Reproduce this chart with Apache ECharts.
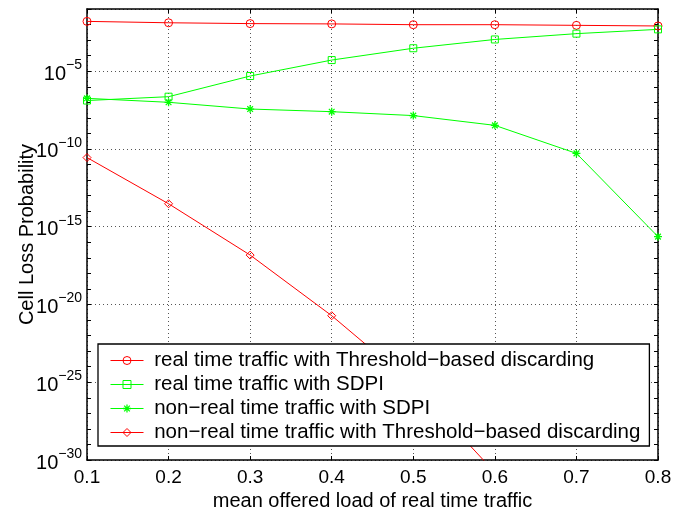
<!DOCTYPE html>
<html>
<head>
<meta charset="utf-8">
<script src="https://cdn.jsdelivr.net/npm/echarts@6/dist/echarts.min.js"></script>
<style>html,body{margin:0;padding:0;background:#fff}#c{width:685px;height:508px}</style>
</head>
<body>
<div id="c"></div>
<script>
var loads = [0.1, 0.2, 0.3, 0.4, 0.5, 0.6, 0.7, 0.8];
var rtThreshold = [1.6e-2, 1.3e-2, 1.15e-2, 1.1e-2, 9.8e-3, 9.8e-3, 8.9e-3, 8.1e-3];
var rtSDPI = [1.3e-7, 2.3e-7, 4.9e-6, 5.2e-5, 3.0e-4, 1.1e-3, 2.6e-3, 4.9e-3];
var nrtSDPI = [1.8e-7, 1.0e-7, 3.7e-8, 2.5e-8, 1.4e-8, 3.3e-9, 5.2e-11, 2.3e-16];
var nrtThreshold = [2.8e-11, 3.0e-14, 1.5e-17, 1.9e-21, 7.2e-26, 1.6e-31];
var seriesNames = [
  'real time traffic with Threshold\u2212based discarding',
  'real time traffic with SDPI',
  'non\u2212real time traffic with SDPI',
  'non\u2212real time traffic with Threshold\u2212based discarding'
];
var xTicks = [0.1, 0.2, 0.3, 0.4, 0.5, 0.6, 0.7, 0.8];
var yLabelExponents = [-30, -25, -20, -15, -10, -5];
var yMinExp = -30, yMaxExp = -1;
var xTitle = 'mean offered load of real time traffic';
var yTitle = 'Cell Loss Probability';

var FONT = "'Liberation Sans', Arial, Helvetica, sans-serif";
var RED = '#ff0000', GREEN = '#00ff00';
var STAR = 'path://M-0.16,-1 L0.16,-1 L0.16,1 L-0.16,1 Z M-1,-0.16 L1,-0.16 L1,0.16 L-1,0.16 Z M-0.82,-0.6 L-0.6,-0.82 L0.82,0.6 L0.6,0.82 Z M0.6,-0.82 L0.82,-0.6 L-0.6,0.82 L-0.82,0.6 Z';

// log10 scale: values are plotted on a decade (exponent) axis
function pairs(vals) { return vals.map(function (v, i) { return [loads[i], Math.log10(v)]; }); }

function mkSeries(name, vals, color, symbol, size, hollow) {
  return {
    type: 'line', name: name, data: pairs(vals), xAxisIndex: 0, yAxisIndex: 0,
    symbol: symbol, symbolSize: size, showAllSymbol: true, clip: true,
    lineStyle: { color: color, width: 1 },
    itemStyle: hollow ? { color: 'rgba(255,255,255,0)', borderColor: color, borderWidth: 1 } : { color: color, borderWidth: 0 },
    emphasis: { disabled: true }
  };
}

var chart = echarts.init(document.getElementById('c'), null, { renderer: 'canvas' });
var gridLine = { show: true, lineStyle: { color: '#555', type: [1, 3], width: 1 } };
var tickStyle = { show: true, inside: true, length: 4, lineStyle: { color: '#000', width: 1 } };
var frameLine = { show: true, lineStyle: { color: '#000', width: 1.5 } };
chart.setOption({
  animation: false,
  backgroundColor: '#fff',
  textStyle: { fontFamily: FONT },
  grid: { left: 87, right: 27, top: 9, bottom: 48, containLabel: false, outerBoundsMode: 'none' },
  legend: {
    orient: 'vertical', left: 98, top: 344,
    padding: [6, 9, 3, 12],
    itemWidth: 33, itemHeight: 10, itemGap: 3,
    backgroundColor: '#fff', borderColor: '#000', borderWidth: 1.3,
    lineStyle: { width: 1 },
    itemStyle: { borderWidth: 1 },
    textStyle: { fontFamily: FONT, fontSize: 20.5, color: '#000' },
    formatter: function (n) { return ' ' + n; },
    data: seriesNames,
    selectedMode: false
  },
  xAxis: [{
    type: 'value', min: 0.1, max: 0.8, interval: 0.1, position: 'bottom',
    name: xTitle, nameLocation: 'middle', nameGap: 28,
    nameTextStyle: { fontFamily: FONT, fontSize: 20, color: '#000' },
    axisLine: frameLine,
    axisTick: tickStyle,
    axisLabel: { fontFamily: FONT, fontSize: 19, color: '#000', margin: 8, formatter: function (v) { return v.toFixed(1); } },
    splitLine: gridLine
  }, {
    type: 'value', min: 0.1, max: 0.8, interval: 0.1, position: 'top',
    axisLine: frameLine, axisTick: tickStyle,
    axisLabel: { show: false }, splitLine: { show: false }
  }],
  yAxis: [{
    type: 'value', min: yMinExp, max: yMaxExp, interval: 5, position: 'left',
    name: yTitle, nameLocation: 'middle', nameGap: 50, nameRotate: 90, nameMoveOverlap: false,
    nameTextStyle: { fontFamily: FONT, fontSize: 20, color: '#000' },
    axisLine: frameLine,
    axisTick: { show: false },
    axisLabel: {
      margin: 5, color: '#000',
      formatter: function (e) {
        e = Math.round(e);
        if (yLabelExponents.indexOf(e) < 0) return '';
        return '{b|10}{s|' + (e < 0 ? '\u2212' : '') + Math.abs(e) + '}';
      },
      rich: {
        b: { fontFamily: FONT, fontSize: 20, color: '#000', padding: [6, 0, 0, 0], verticalAlign: 'bottom' },
        s: { fontFamily: FONT, fontSize: 14, color: '#000', verticalAlign: 'top' }
      }
    },
    splitLine: gridLine
  }, {
    type: 'value', min: yMinExp, max: yMaxExp, interval: 1, position: 'left',
    axisLine: { show: false }, axisTick: tickStyle,
    axisLabel: { show: false }, splitLine: { show: false }
  }, {
    type: 'value', min: yMinExp, max: yMaxExp, interval: 1, position: 'right',
    axisLine: frameLine, axisTick: tickStyle,
    axisLabel: { show: false }, splitLine: { show: false }
  }],
  series: [
    mkSeries(seriesNames[0], rtThreshold, RED, 'circle', 8, true),
    mkSeries(seriesNames[1], rtSDPI, GREEN, 'rect', 7, true),
    mkSeries(seriesNames[2], nrtSDPI, GREEN, STAR, 8, false),
    mkSeries(seriesNames[3], nrtThreshold, RED, 'diamond', 8, true)
  ]
});
</script>
</body>
</html>
